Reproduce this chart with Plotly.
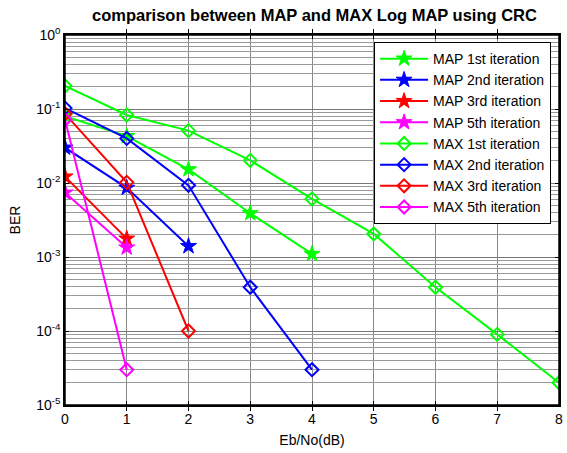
import plotly.graph_objects as go

ebno = [0, 1, 2, 3, 4, 5, 6, 7, 8]

map_1st = [0.08, 0.043, 0.0153, 0.0039, 0.0011]
map_2nd = [0.030, 0.0086, 0.0014]
map_3rd = [0.0122, 0.00177]
map_5th = [0.0074, 0.00134]
max_1st = [0.205, 0.083, 0.051, 0.0202, 0.0061, 0.00205, 0.00039, 0.00009, 0.00002]
max_2nd = [0.103, 0.040, 0.0093, 0.00039, 0.00003]
max_3rd = [0.086, 0.0102, 0.0001]
max_5th = [0.072, 0.00003]

names = ["MAP 1st iteration", "MAP 2nd iteration", "MAP 3rd iteration", "MAP 5th iteration",
         "MAX 1st iteration", "MAX 2nd iteration", "MAX 3rd iteration", "MAX 5th iteration"]
series = [map_1st, map_2nd, map_3rd, map_5th, max_1st, max_2nd, max_3rd, max_5th]
colors = ["#00FF00", "#0000FF", "#FF0000", "#FF00FF"] * 2
symbols = ["star"] * 4 + ["diamond-open"] * 4

decades = [0, -1, -2, -3, -4, -5]
ytickvals = [10.0 ** d for d in decades]
yticktext = ["10<sup>%d</sup>" % d for d in decades]
minor_vals = [m * 10.0 ** d for d in decades[1:] for m in range(2, 10)]

fig = go.Figure()
for name, vals, c, s in zip(names, series, colors, symbols):
    fig.add_trace(go.Scatter(
        x=ebno[:len(vals)], y=vals, name=name, mode="lines+markers",
        line=dict(color=c, width=2),
        marker=dict(symbol=s, size=12 if s == "star" else 10, color=c,
                    line=dict(color=c, width=2 if s != "star" else 1)),
    ))
# invisible trace to activate overlay axis for minor grid
fig.add_trace(go.Scatter(x=[0], y=[1e-3], yaxis="y2", mode="markers",
                         marker=dict(opacity=0), showlegend=False, hoverinfo="skip"))

font = "Liberation Sans, Arial, sans-serif"
fig.update_layout(
    width=567, height=453,
    margin=dict(l=64.5, r=4, t=35, b=48),
    paper_bgcolor="white", plot_bgcolor="white",
    font=dict(family=font, size=14, color="black"),
    title=dict(text="<b>comparison between MAP and MAX Log MAP using CRC</b>",
               xref="paper", x=0.505, xanchor="center",
               yref="container", y=1 - 15 / 453, yanchor="middle",
               font=dict(size=16.5, family=font)),
    legend=dict(x=0.984, xanchor="right", y=0.981, yanchor="top",
                bgcolor="white", bordercolor="black", borderwidth=1,
                font=dict(size=14, family=font), itemwidth=48,
                tracegroupgap=0),
    showlegend=True,
    yaxis2=dict(type="log", range=[-5, 0], overlaying="y", side="right",
                tickvals=minor_vals, showticklabels=False, ticks="",
                showgrid=True, gridcolor="#999999", gridwidth=1,
                zeroline=False, showline=False),
    shapes=[dict(type="rect", xref="paper", yref="paper", x0=0, x1=1, y0=0, y1=1,
                 line=dict(color="black", width=1.5), fillcolor="rgba(0,0,0,0)",
                 layer="above")],
)
fig.update_xaxes(
    range=[0, 8], dtick=1, tick0=0,
    showline=True, linecolor="black", linewidth=1.5, mirror="allticks",
    ticks="inside", ticklen=4, tickcolor="black",
    showgrid=True, gridcolor="#888888", gridwidth=1, zeroline=False,
    title=dict(text="Eb/No(dB)", standoff=10, font=dict(size=14)),
    tickfont=dict(size=14),
)
fig.layout.yaxis.update(
    type="log", range=[-5, 0],
    tickvals=ytickvals, ticktext=yticktext,
    showline=True, linecolor="black", linewidth=1.5, mirror="allticks",
    ticks="inside", ticklen=4, tickcolor="black",
    showgrid=True, gridcolor="#777777", gridwidth=1, zeroline=False,
    title=dict(text="BER", standoff=12, font=dict(size=14)),
    tickfont=dict(size=14),
)
fig.write_html("out.html")
